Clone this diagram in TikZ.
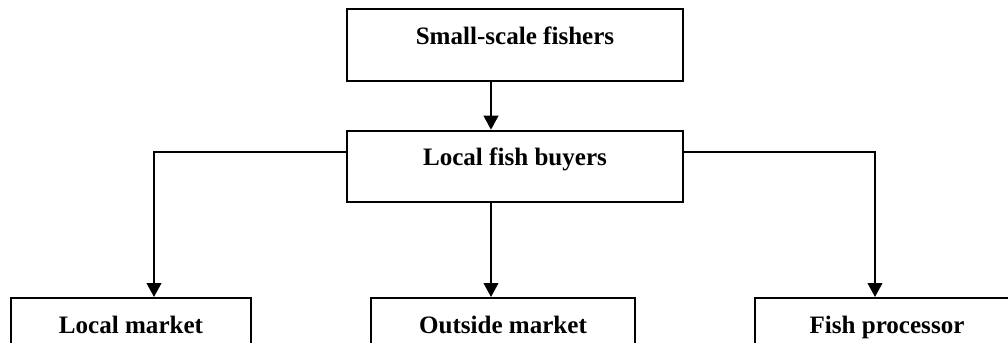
\documentclass[tikz,border=0pt]{standalone}
\usepackage{fontspec}
\setmainfont{Liberation Serif}
\usepackage{tikz}
\usetikzlibrary{arrows.meta,positioning}

\begin{document}
\begin{tikzpicture}[
    x=0.75pt,y=-0.75pt,
    font=\fontsize{18.8pt}{22pt}\selectfont\bfseries,
    box/.style={draw=black,line width=1.5pt,inner ysep=0pt,text height=26.25pt,text depth=27.5pt,align=center},
    arr/.style={-{Triangle[length=10.5pt,width=11pt]},line width=1.5pt,draw=black}
  ]
    \useasboundingbox (0,0) rectangle (1008,343);
    \node[box,minimum width=252pt,anchor=north] (fishers) at (515,8) {Small-scale fishers};
    \node[box,minimum width=252pt,below=36pt of fishers] (buyers) {Local fish buyers};
    \node[box,minimum width=180pt,anchor=north] (locmkt) at (131,297) {Local market};
    \node[box,minimum width=198pt,anchor=north] (outmkt) at (503,297) {Outside market};
    \node[box,minimum width=198pt,anchor=north] (proc) at (887,297) {Fish processor};
    \coordinate (midx) at (491,0);
    \coordinate (leftc) at (154,152);
    \coordinate (rightc) at (875,152);
    \draw[arr] (fishers.south -| midx) -- (buyers.north -| midx);
    \draw[arr] (buyers.south -| midx) -- (outmkt.north -| midx);
    \draw[arr] (buyers.west |- leftc) -- (leftc) -- (locmkt.north -| leftc);
    \draw[arr] (buyers.east |- rightc) -- (rightc) -- (proc.north -| rightc);
  \end{tikzpicture}
\end{document}
